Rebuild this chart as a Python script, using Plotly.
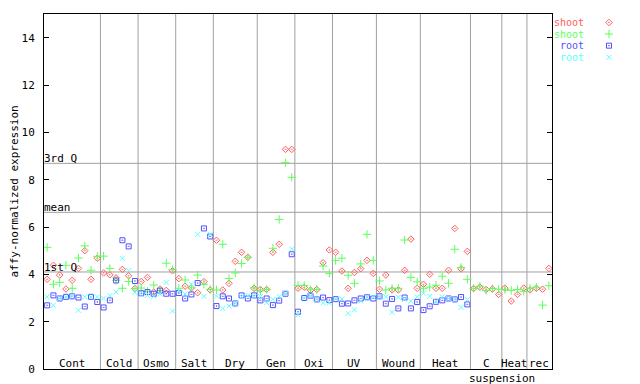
import plotly.graph_objects as go

# ---------------- data ----------------
groups = ["Cont", "Cold", "Osmo", "Salt", "Dry", "Gen", "Oxi", "UV", "Wound", "Heat", "C", "Heat", "rec"]
group_sizes = [9, 6, 6, 6, 7, 6, 6, 7, 7, 8, 5, 4, 4]

shoot_red = [
    3.79, 4.38, 3.97, 3.38, 3.75, 4.25, 5.00, 3.79, 4.68,      # Cont
    4.06, 3.98, 3.85, 4.21, 3.94, 3.40,                        # Cold
    3.70, 3.87, 3.25, 3.38, 3.32, 4.15,                        # Osmo
    3.82, 3.50, 3.43, 3.22, 3.69, 3.34,                        # Salt
    5.44, 3.34, 3.62, 4.55, 4.93, 4.72, 3.41,                  # Dry
    3.36, 3.36, 4.93, 5.27, 9.28, 9.28,                        # Gen
    3.41, 3.45, 3.33, 3.36, 4.49, 5.03,                        # Oxi
    4.93, 4.14, 3.41, 4.08, 4.24, 4.59, 4.04,                  # UV
    3.37, 3.97, 3.34, 3.34, 4.17, 5.49, 3.41,                  # Wound
    3.58, 4.00, 3.41, 3.41, 4.17, 5.94, 4.23, 4.97,            # Heat
    3.40, 3.46, 3.36, 3.38, 3.15,                              # C suspension
    3.42, 2.87, 3.15, 3.42,                                    # Heat
    3.34, 3.41, 3.37, 4.25,                                    # rec
]
shoot_green = [
    5.14, 3.58, 3.66, 4.38, 3.41, 4.69, 5.20, 4.17, 4.76,
    4.77, 4.25, 3.75, 3.41, 3.70, 3.40,
    3.42, 3.28, 3.55, 3.32, 4.47, 4.20,
    3.41, 3.76, 3.43, 3.97, 3.58, 3.36,
    3.34, 5.27, 3.82, 4.06, 4.46, 4.72, 3.43,
    3.30, 3.36, 5.10, 6.32, 8.72, 8.10,
    3.53, 3.53, 3.35, 3.36, 4.35, 4.04,
    4.59, 4.68, 3.96, 3.62, 4.44, 5.69, 4.59,
    3.72, 3.34, 3.41, 3.41, 5.45, 3.87, 3.68,
    3.41, 3.46, 3.54, 3.92, 3.62, 5.06, 4.29, 3.79,
    3.41, 3.50, 3.32, 3.40, 3.37,
    3.36, 3.32, 3.36, 3.28,
    3.41, 3.46, 2.70, 3.52,
]
root_blue = [
    2.69, 3.11, 2.98, 3.05, 3.07, 3.02, 2.64, 3.05, 2.83,
    2.60, 2.90, 3.74, 5.44, 5.18, 3.72,
    3.20, 3.25, 3.18, 3.31, 3.18, 3.18,
    3.21, 2.98, 3.15, 3.63, 5.94, 5.60,
    2.66, 3.07, 2.98, 2.77, 3.11, 2.98, 3.11,
    2.90, 2.98, 2.70, 2.89, 3.18, 4.85,
    2.42, 3.00, 3.10, 2.94, 3.02, 2.91,
    2.95, 2.76, 2.77, 2.90, 2.98, 3.03, 2.98,
    3.07, 2.76, 2.96, 2.56, 3.02, 2.56, 2.83,
    2.49, 2.65, 2.84, 2.90, 2.98, 2.94, 3.04, 2.73,
    None, None, None, None, None,
    None, None, None, None,
    None, None, None, None,
]
root_cyan = [
    3.05, 2.69, 2.99, 3.05, 3.07, 2.48, 3.05, 3.05, 3.05,
    2.99, 3.10, 3.25, 4.68, 4.16, 3.23,
    3.15, 3.11, 3.08, 3.17, 3.66, 2.45,
    3.30, 3.17, 3.58, 5.69, 3.07, 5.69,
    3.08, 2.56, 2.66, 2.77, 3.06, 3.11, 3.06,
    3.06, 2.80, 2.94, 3.06, 3.20, 5.07,
    2.29, 3.00, 3.10, 2.94, 2.80, 2.79,
    2.96, 2.96, 2.35, 2.50, 2.87, 3.03, 3.03,
    3.05, 3.05, 2.40, 3.03, 2.94, 2.87, 3.05,
    3.20, 3.07, 2.86, 3.05, 2.98, 2.94, 2.60, 2.94,
    None, None, None, None, None,
    None, None, None, None,
    None, None, None, None,
]

quartile_labels = ["1st Q", "mean", "3rd Q"]
quartile_values = [4.10, 6.62, 8.69]
y_ticks = [0, 2, 4, 6, 8, 10, 12, 14]
legend_labels = ["shoot", "shoot", "root", "root"]

# ---------------- styling ----------------
FONT = "DejaVu Sans Mono"
colors = ["#ff5c5c", "#5cff5c", "#5050ff", "#5cffff"]
symbols = ["diamond-open-dot", "cross-thin-open", "square-open-dot", "x-thin-open"]
sizes = [5, 6, 5, 5]
series = [shoot_red, shoot_green, root_blue, root_cyan]

n = len(shoot_red)
xs = [i + 0.5 for i in range(n)]

# page body has an 8px margin: figure is placed at (8, 8)
OFF = 8
W, H = 640 - OFF, 384 - OFF
ML, MT, MB = 44 - OFF, 14 - OFF, 15
plot_right = 552 - OFF
dom_end = (plot_right - ML) / (W - ML)

fig = go.Figure()
for vals, c, s, sz in zip(series, colors, symbols, sizes):
    fig.add_trace(go.Scatter(
        x=xs, y=vals, mode="markers", showlegend=False,
        marker=dict(symbol=s, color=c, size=sz, line=dict(color=c, width=1)),
        xaxis="x", yaxis="y", cliponaxis=False,
    ))

annotations = []
# legend (manual: text then marker)
for k, (lab, c, s, sz) in enumerate(zip(legend_labels, colors, symbols, sizes)):
    fig.add_trace(go.Scatter(
        x=[57], y=[k], mode="markers", showlegend=False,
        marker=dict(symbol=s, color=c, size=sz, line=dict(color=c, width=1)),
        xaxis="x2", yaxis="y2",
    ))
    annotations.append(dict(x=33, y=k, xref="x2", yref="y2", text=lab, showarrow=False,
                            xanchor="right", yanchor="middle", borderpad=0,
                            font=dict(family=FONT, size=10, color=c)))

shapes = []
edges = []
acc = 0
for sz_ in group_sizes[:-1]:
    acc += sz_
    edges.append(acc)
for e in edges:
    shapes.append(dict(type="line", xref="x", yref="y domain", x0=e, x1=e, y0=0, y1=1,
                       line=dict(color="#a0a0a0", width=1), layer="below"))
for qv in quartile_values:
    shapes.append(dict(type="line", xref="x domain", yref="y", x0=0, x1=1, y0=qv, y1=qv,
                       line=dict(color="#a0a0a0", width=1), layer="below"))

for lab, qv in zip(quartile_labels, quartile_values):
    annotations.append(dict(x=0, y=qv, xref="x domain", yref="y", text=lab, showarrow=False,
                            xanchor="left", yanchor="bottom", xshift=-2, yshift=-4,
                            font=dict(family=FONT, size=11, color="black")))

start = 0
for g, sz_ in zip(groups, group_sizes):
    center = start + sz_ / 2
    annotations.append(dict(x=center, y=0, xref="x", yref="y", text=g, showarrow=False,
                            xanchor="center", yanchor="bottom", yshift=-3,
                            font=dict(family=FONT, size=11, color="black")))
    if g == "C":
        annotations.append(dict(x=center, y=0, xref="x", yref="y", text="suspension",
                                showarrow=False, xanchor="center", yanchor="top",
                                yshift=-1, xshift=16,
                                font=dict(family=FONT, size=11, color="black")))
    start += sz_

annotations.append(dict(x=0, y=0.5, xref="paper", yref="y domain", text="affy-normalized expression",
                        showarrow=False, textangle=-90, xanchor="center", yanchor="middle",
                        xshift=-30, font=dict(family=FONT, size=11, color="black")))

fig.update_layout(
    width=W, height=H,
    margin=dict(l=ML, r=0, t=MT, b=MB, pad=0),
    paper_bgcolor="white", plot_bgcolor="white",
    showlegend=False,
    xaxis=dict(domain=[0, dom_end], range=[0, n], showgrid=False, zeroline=False,
               showticklabels=False, ticks="", showline=True, linecolor="black",
               linewidth=1, mirror=True, fixedrange=True),
    yaxis=dict(range=[0, 15], tickvals=y_ticks, ticktext=[str(t) for t in y_ticks],
               ticks="inside", ticklen=5, tickcolor="black", showgrid=False, zeroline=False,
               showline=True, linecolor="black", linewidth=1, mirror="ticks",
               tickfont=dict(family=FONT, size=11, color="black"), ticklabelstandoff=6),
    xaxis2=dict(domain=[dom_end, 1], range=[0, 640 - 552], visible=False,
                anchor="y2", fixedrange=True),
    yaxis2=dict(domain=[0, 1], range=[29.87, -0.73], visible=False, anchor="x2"),
    shapes=shapes,
    annotations=annotations,
)

fig.write_html("out.html")
